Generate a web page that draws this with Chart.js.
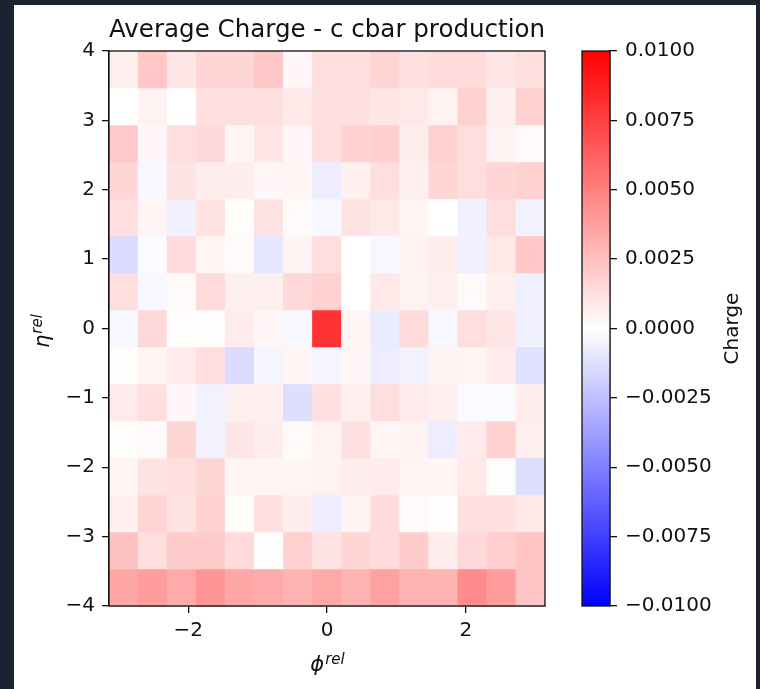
<!DOCTYPE html>
<html>
<head>
<meta charset="utf-8">
<script src="https://cdn.jsdelivr.net/npm/chart.js@4"></script>
<style>
  html, body { margin: 0; padding: 0; background: #1b2230; }
  #page { position: absolute; left: 14px; top: 5px; width: 742px; height: 684px; background: #fff; }
  #heat { position: absolute; left: 0; top: 0; }
  #cbar { position: absolute; left: 556px; top: 0; }
</style>
</head>
<body>
<div id="page">
  <canvas id="heat" width="546" height="684"></canvas>
  <canvas id="cbar" width="186" height="684"></canvas>
</div>
<script>
// ===== DATA =====
const phiRange = [-Math.PI, Math.PI];
const etaRange = [-4, 4];
const phiTicks = [-2, 0, 2];
const etaTicks = [-4, -3, -2, -1, 0, 1, 2, 3, 4];
const chargeTicks = [-0.01, -0.0075, -0.005, -0.0025, 0, 0.0025, 0.005, 0.0075, 0.01];

// average charge per cell, top row first (eta near +4), columns phi -pi .. +pi
const charge = [
  [0.0006, 0.0022, 0.0010, 0.0016, 0.0016, 0.0022, 0.0003, 0.0013, 0.0013, 0.0017, 0.0012, 0.0014, 0.0014, 0.0010, 0.0013],
  [0.0000, 0.0005, 0.0000, 0.0012, 0.0012, 0.0012, 0.0009, 0.0012, 0.0012, 0.0010, 0.0009, 0.0005, 0.0018, 0.0006, 0.0018],
  [0.0021, 0.0003, 0.0013, 0.0015, 0.0004, 0.0010, 0.0003, 0.0012, 0.0018, 0.0019, 0.0007, 0.0018, 0.0013, 0.0005, 0.0002],
  [0.0016, -0.0003, 0.0011, 0.0007, 0.0007, 0.0003, 0.0004, -0.0007, 0.0006, 0.0013, 0.0006, 0.0016, 0.0013, 0.0016, 0.0018],
  [0.0013, 0.0004, -0.0006, 0.0011, 0.0001, 0.0011, 0.0002, -0.0003, 0.0011, 0.0009, 0.0004, 0.0000, -0.0006, 0.0013, -0.0005],
  [-0.0014, -0.0002, 0.0014, 0.0004, 0.0002, -0.0010, 0.0005, 0.0013, 0.0000, -0.0003, 0.0005, 0.0007, -0.0006, 0.0009, 0.0022],
  [0.0013, -0.0003, 0.0002, 0.0014, 0.0006, 0.0006, 0.0015, 0.0018, 0.0000, 0.0009, 0.0005, 0.0006, 0.0002, 0.0006, -0.0006],
  [-0.0003, 0.0015, 0.0001, 0.0001, 0.0008, 0.0003, -0.0003, 0.0080, 0.0004, -0.0008, 0.0014, -0.0003, 0.0013, 0.0010, -0.0006],
  [0.0001, 0.0004, 0.0008, 0.0013, -0.0014, -0.0004, 0.0004, -0.0004, 0.0003, -0.0007, -0.0005, 0.0005, 0.0004, 0.0008, -0.0012],
  [0.0008, 0.0012, 0.0003, -0.0005, 0.0006, 0.0006, -0.0013, 0.0012, 0.0006, 0.0013, 0.0008, 0.0006, -0.0002, -0.0002, 0.0007],
  [0.0001, 0.0002, 0.0016, -0.0005, 0.0010, 0.0007, 0.0002, 0.0005, 0.0012, 0.0004, 0.0005, -0.0007, 0.0008, 0.0018, 0.0006],
  [0.0004, 0.0011, 0.0013, 0.0016, 0.0004, 0.0004, 0.0004, 0.0005, 0.0007, 0.0008, 0.0004, 0.0004, 0.0009, 0.0001, -0.0013],
  [0.0006, 0.0017, 0.0011, 0.0018, 0.0001, 0.0012, 0.0007, -0.0007, 0.0005, 0.0014, 0.0002, 0.0001, 0.0012, 0.0012, 0.0009],
  [0.0024, 0.0013, 0.0020, 0.0020, 0.0014, 0.0001, 0.0018, 0.0011, 0.0016, 0.0014, 0.0020, 0.0007, 0.0015, 0.0019, 0.0023],
  [0.0035, 0.0039, 0.0033, 0.0041, 0.0035, 0.0033, 0.0030, 0.0034, 0.0030, 0.0037, 0.0030, 0.0030, 0.0045, 0.0039, 0.0023]
];

const vmin = -0.01, vmax = 0.01;
const FONT = "'DejaVu Sans', sans-serif";
const INK = '#111';

// matplotlib "bwr" colormap
function bwr(v) {
    let t = (v - vmin) / (vmax - vmin);
    t = Math.min(1, Math.max(0, t));
    let r, g, b;
    if (t < 0.5) { r = g = 2 * t; b = 1; }
    else { r = 1; g = b = 2 * (1 - t); }
    return `rgb(${Math.round(r * 255)},${Math.round(g * 255)},${Math.round(b * 255)})`;
}

function minusSign(s) {
    return String(s).replace('-', '\u2212');
}

// box around the plot area (matplotlib spines)
const frame = {
    id: 'frame',
    afterDraw(chart) {
        const a = chart.chartArea;
        const ctx = chart.ctx;
        ctx.save();
        ctx.strokeStyle = INK;
        ctx.lineWidth = 1.3;
        ctx.strokeRect(a.left, a.top, a.right - a.left, a.bottom - a.top);
        ctx.restore();
    }
};

// symbol with a superscript, e.g. phi^rel
function drawSup(ctx, base, sup, x, y) {
    const baseFont = 'italic 21px ' + FONT;
    const supFont = 'italic 15px ' + FONT;
    ctx.font = baseFont;
    const wb = ctx.measureText(base).width;
    ctx.font = supFont;
    const ws = ctx.measureText(sup).width;
    const x0 = x - (wb + ws) / 2;
    ctx.textAlign = 'left';
    ctx.textBaseline = 'alphabetic';
    ctx.font = baseFont;
    ctx.fillText(base, x0, y);
    ctx.font = supFont;
    ctx.fillText(sup, x0 + wb + 1, y - 7);
}

const axisLabels = {
    id: 'axisLabels',
    afterDraw(chart) {
        const a = chart.chartArea;
        const ctx = chart.ctx;
        ctx.save();
        ctx.fillStyle = INK;
        drawSup(ctx, '\u03d5', 'rel', (a.left + a.right) / 2, a.bottom + 65);
        ctx.translate(a.left - 60, (a.top + a.bottom) / 2 + 3);
        ctx.rotate(-Math.PI / 2);
        drawSup(ctx, '\u03b7', 'rel', 0, 0);
        ctx.restore();
    }
};

// ===== HEATMAP =====
const nEta = charge.length;
const nPhi = charge[0].length;
const dPhi = (phiRange[1] - phiRange[0]) / nPhi;
const dEta = (etaRange[1] - etaRange[0]) / nEta;

const datasets = charge.map((row, i) => {
    const hi = etaRange[1] - i * dEta;
    const lo = hi - dEta;
    return {
        data: row.map((v, j) => ({ x: phiRange[0] + (j + 0.5) * dPhi, y: [lo, hi] })),
        backgroundColor: row.map(bwr),
        borderWidth: 0,
        grouped: false,
        barPercentage: 1,
        categoryPercentage: 1
    };
});

new Chart(document.getElementById('heat'), {
    type: 'bar',
    data: { datasets: datasets },
    options: {
        responsive: false,
        animation: false,
        layout: { padding: { top: 0, right: 15, bottom: 0, left: 0 } },
        plugins: {
            legend: { display: false },
            tooltip: { enabled: false },
            title: {
                display: true,
                fullSize: false,
                text: 'Average Charge - c cbar production',
                color: INK,
                font: { family: FONT, size: 25, weight: 'normal' },
                padding: { top: 10, bottom: 6 }
            }
        },
        scales: {
            x: {
                type: 'linear',
                min: phiRange[0],
                max: phiRange[1],
                offset: false,
                afterBuildTicks: s => { s.ticks = phiTicks.map(v => ({ value: v })); },
                afterFit: s => { s.height = 83; },
                grid: { offset: false, drawOnChartArea: false, drawTicks: true, tickLength: 7, color: INK, lineWidth: 1.3 },
                border: { display: true, color: INK, width: 1.3 },
                ticks: { color: INK, padding: 6, font: { family: FONT, size: 20 }, callback: v => minusSign(v), maxRotation: 0 }
            },
            y: {
                type: 'linear',
                min: etaRange[0],
                max: etaRange[1],
                afterBuildTicks: s => { s.ticks = etaTicks.map(v => ({ value: v })); },
                afterFit: s => { s.width = 95; },
                grid: { offset: false, drawOnChartArea: false, drawTicks: true, tickLength: 7, color: INK, lineWidth: 1.3 },
                border: { display: true, color: INK, width: 1.3 },
                ticks: { color: INK, padding: 7, font: { family: FONT, size: 20 }, callback: v => minusSign(v) }
            }
        }
    },
    plugins: [frame, axisLabels]
});

// ===== COLORBAR =====
const cbarLabel = {
    id: 'cbarLabel',
    afterDraw(chart) {
        const a = chart.chartArea;
        const ctx = chart.ctx;
        ctx.save();
        ctx.fillStyle = INK;
        ctx.font = '20px ' + FONT;
        ctx.textAlign = 'center';
        ctx.textBaseline = 'middle';
        ctx.translate(a.right + 123, (a.top + a.bottom) / 2);
        ctx.rotate(-Math.PI / 2);
        ctx.fillText('Charge', 0, 0);
        ctx.restore();
    }
};

new Chart(document.getElementById('cbar'), {
    type: 'bar',
    data: {
        labels: ['Charge'],
        datasets: [{
            data: [[vmin, vmax]],
            borderWidth: 0,
            barPercentage: 1,
            categoryPercentage: 1,
            backgroundColor: ctx => {
                const a = ctx.chart.chartArea;
                if (!a) return bwr(0);
                const g = ctx.chart.ctx.createLinearGradient(0, a.bottom, 0, a.top);
                g.addColorStop(0, bwr(vmin));
                g.addColorStop(0.5, bwr(0));
                g.addColorStop(1, bwr(vmax));
                return g;
            }
        }]
    },
    options: {
        responsive: false,
        animation: false,
        layout: { padding: { top: 46, right: 0, bottom: 83, left: 12 } },
        plugins: { legend: { display: false }, tooltip: { enabled: false }, title: { display: false } },
        scales: {
            x: { display: false },
            y: {
                position: 'right',
                min: vmin,
                max: vmax,
                afterBuildTicks: s => { s.ticks = chargeTicks.map(v => ({ value: v })); },
                afterFit: s => { s.width = 146; },
                grid: { drawOnChartArea: false, drawTicks: true, tickLength: 7, color: INK, lineWidth: 1.3 },
                border: { display: true, color: INK, width: 1.3 },
                ticks: { color: INK, padding: 8, font: { family: FONT, size: 20 }, callback: v => minusSign(v.toFixed(4)) }
            }
        }
    },
    plugins: [frame, cbarLabel]
});
</script>
</body>
</html>
